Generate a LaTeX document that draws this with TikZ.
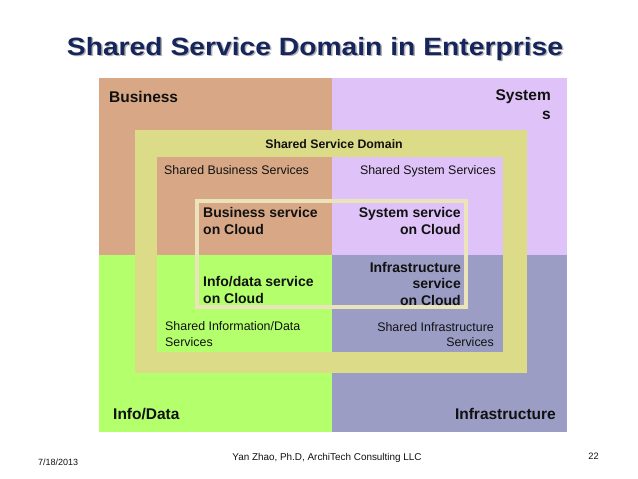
\documentclass[tikz,border=0pt]{standalone}
\usepackage{fontspec}
\setmainfont{Liberation Sans}
\definecolor{bizc}{HTML}{D8A886}
\definecolor{sysc}{HTML}{DFC3F8}
\definecolor{infoc}{HTML}{B3FF6C}
\definecolor{infrac}{HTML}{9B9DC5}
\definecolor{bandc}{HTML}{DCDC88}
\definecolor{cloudc}{HTML}{EBE4BA}
\definecolor{titlec}{HTML}{16265C}
\definecolor{txtc}{HTML}{111111}
\tikzset{
  quadlabel/.style={inner sep=0pt, font=\fontsize{15.5}{19}\selectfont\bfseries, text=txtc},
  sharedlabel/.style={inner sep=0pt, font=\fontsize{12.4}{15.5}\selectfont, text=txtc},
  cloudlabel/.style={inner sep=0pt, font=\fontsize{14}{16.5}\selectfont\bfseries, text=txtc},
  footlabel/.style={inner sep=0pt, text=txtc}
}
\begin{document}
\begin{tikzpicture}[x=1pt,y=-1pt]
\useasboundingbox[fill=white] (0,0) rectangle (638,479);
% title
\node[inner sep=0pt, anchor=base, text=black!30] (titleshadow) at (316.5,56.5) {\scalebox{1.13}[1]{\fontsize{25}{30}\selectfont\bfseries Shared Service Domain in Enterprise}};
\node[inner sep=0pt, anchor=base, text=titlec] (title) at (315,55) {\scalebox{1.13}[1]{\fontsize{25}{30}\selectfont\bfseries Shared Service Domain in Enterprise}};
% outer quadrants
\fill[bizc] (99,78) rectangle (332,255);
\fill[sysc] (332,78) rectangle (567,255);
\fill[infoc] (99,255) rectangle (332,432);
\fill[infrac] (332,255) rectangle (567,432);
% shared service domain band
\fill[bandc] (135,130) rectangle (527,373);
% inner quadrants
\fill[bizc] (157,157) rectangle (332,255);
\fill[sysc] (332,157) rectangle (503,255);
\fill[infoc] (157,255) rectangle (332,352);
\fill[infrac] (332,255) rectangle (503,352);
% cloud frame
\draw[cloudc, line width=3.5pt] (197,201) rectangle (466,307);
% quadrant labels
\node[quadlabel, anchor=base west] (business) at (109,102) {Business};
\node[quadlabel, anchor=base east, align=right] (systems) at (551,119) {System\\s};
\node[quadlabel, anchor=base west] (infodata) at (113,419) {Info/Data};
\node[quadlabel, anchor=base east] (infra) at (556,419) {Infrastructure};
% band label
\node[inner sep=0pt, anchor=base, font=\fontsize{12.3}{15}\selectfont\bfseries, text=txtc] (ssd) at (334,148.5) {Shared Service Domain};
% shared labels
\node[sharedlabel, anchor=base west] (sbs) at (164,174) {Shared Business Services};
\node[sharedlabel, anchor=base east] (sss) at (496,174) {Shared System Services};
\node[sharedlabel, anchor=base west, align=left] (sids) at (165,346) {Shared Information/Data\\Services};
\node[sharedlabel, anchor=base east, align=right] (sis) at (494,346.5) {Shared Infrastructure\\Services};
% cloud labels
\node[cloudlabel, anchor=base west, align=left] (bsc) at (203,234) {Business service\\on Cloud};
\node[cloudlabel, anchor=base east, align=right] (ssc) at (461,234) {System service\\on Cloud};
\node[cloudlabel, anchor=base west, align=left] (idc) at (203,303) {Info/data service\\on Cloud};
\node[cloudlabel, anchor=base east, align=right] (isc) at (461,305) {Infrastructure\\service\\on Cloud};
% footer
\node[footlabel, anchor=base west, font=\fontsize{9}{11}\selectfont] (date) at (38,465) {7/18/2013};
\node[footlabel, anchor=base, font=\fontsize{9.9}{12}\selectfont] (author) at (327,460) {Yan Zhao, Ph.D, ArchiTech Consulting LLC};
\node[footlabel, anchor=base east, font=\fontsize{9.3}{11}\selectfont] (page) at (599,459) {22};
\end{tikzpicture}
\end{document}
